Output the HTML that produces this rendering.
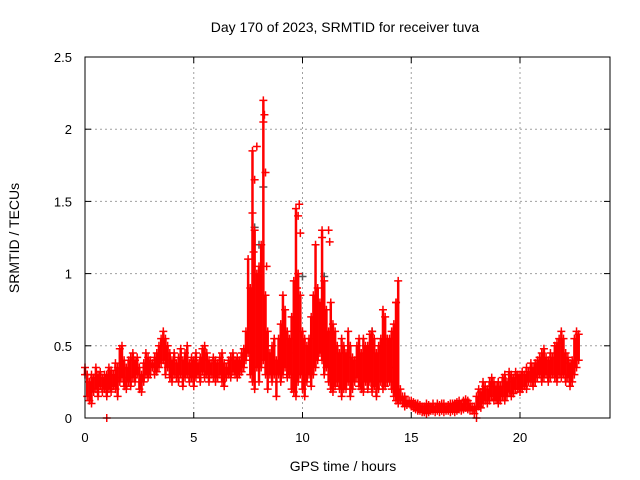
<!DOCTYPE html>
<html><head><meta charset="utf-8"><style>
body{margin:0;background:#fff}
svg{display:block;font-family:"Liberation Sans",sans-serif}
</style></head><body>
<svg id="chart" width="640" height="480">
<text x="345" y="32" font-size="14" text-anchor="middle">Day 170 of 2023, SRMTID for receiver tuva</text>
<text x="343" y="471" font-size="14" text-anchor="middle">GPS time / hours</text>
<text transform="translate(19,238) rotate(-90)" font-size="14" text-anchor="middle">SRMTID / TECUs</text>
<g id="grid"></g><g id="marks"></g>
<rect x="85" y="57" width="525" height="361" fill="none" stroke="#000"/>
<g id="ticks"></g>
</svg>
<script>
const xTicks=[0,5,10,15,20];
const yTicks=[0,0.5,1,1.5,2,2.5];
const yTickLabels=["0","0.5","1","1.5","2","2.5"];
const startHour=0, stepHour=0.1;
const lowVals=[.30,.15,.12,.10,.18,.20,.15,.22,.18,.20,
.15,.20,.18,.22,.20,.15,.25,.28,.22,.20,
.25,.22,.28,.25,.30,.20,.18,.25,.30,.28,
.30,.35,.30,.32,.35,.38,.40,.30,.35,.28,
.25,.30,.28,.25,.30,.22,.28,.30,.25,.28,
.22,.28,.30,.25,.32,.28,.30,.25,.30,.28,
.25,.28,.30,.25,.22,.28,.30,.28,.32,.30,
.28,.30,.32,.35,.40,.45,.30,.25,.20,.35,
.25,.35,.40,.30,.20,.30,.25,.30,.15,.30,
.25,.30,.35,.28,.30,.20,.18,.15,.25,.30,
.20,.15,.25,.30,.22,.30,.35,.40,.45,.40,
.30,.35,.25,.20,.18,.22,.25,.20,.15,.20,
.20,.25,.15,.20,.25,.28,.22,.20,.18,.25,
.20,.25,.18,.22,.15,.20,.25,.20,.22,.25,
.25,.20,.15,.12,.10,.12,.10,.08,.09,.10,
.08,.07,.06,.05,.05,.04,.04,.03,.04,.05,
.05,.04,.05,.04,.05,.04,.05,.05,.04,.05,
.04,.05,.06,.05,.06,.07,.06,.05,.05,.03,
.06,.08,.07,.10,.12,.10,.12,.15,.12,.13,
.10,.12,.15,.12,.15,.18,.15,.17,.20,.20,
.18,.20,.22,.20,.25,.25,.22,.25,.28,.30,
.25,.28,.30,.25,.28,.30,.28,.25,.30,.28,
.30,.25,.28,.22,.25,.30,.35,.40];
const highVals=[.35,.30,.25,.30,.28,.35,.30,.32,.28,.30,
.30,.35,.33,.30,.38,.35,.48,.50,.40,.35,
.40,.42,.45,.40,.42,.35,.30,.38,.45,.42,
.40,.38,.42,.45,.50,.55,.60,.55,.50,.45,
.40,.45,.38,.42,.48,.40,.45,.50,.38,.42,
.40,.45,.38,.42,.48,.50,.45,.40,.38,.42,
.40,.38,.42,.45,.38,.35,.40,.42,.45,.40,
.42,.40,.45,.48,.60,1.10,.90,1.85,1.30,1.00,
1.05,1.20,2.20,.85,.60,.45,.50,.55,.40,.55,
.65,.85,.75,.60,.55,.70,.95,1.45,1.00,.85,
.60,.55,.50,.55,.70,.85,1.20,.90,.80,1.30,
.95,.75,.60,.80,.65,.60,.50,.45,.55,.50,
.45,.60,.50,.42,.40,.50,.55,.45,.55,.50,
.50,.58,.60,.55,.45,.50,.55,.75,.70,.55,
.55,.60,.65,.80,.95,.20,.15,.15,.12,.12,
.12,.11,.10,.10,.09,.08,.08,.10,.09,.08,
.10,.08,.10,.09,.10,.10,.08,.09,.10,.10,
.10,.11,.12,.10,.12,.13,.12,.10,.08,.08,
.15,.20,.18,.25,.22,.20,.25,.28,.25,.22,
.25,.22,.28,.30,.25,.32,.30,.28,.32,.30,
.30,.32,.30,.35,.32,.38,.35,.38,.40,.42,
.45,.48,.42,.40,.45,.42,.50,.52,.55,.60,
.55,.45,.42,.38,.40,.55,.60,.58];
const spikeHours=[7.7,7.8,7.9,8.2,8.25,8.3,9.8,9.85,9.9,10.9,11.2,11.25,1.0,18.0,7.75,8.35,9.75,14.3];
const spikeVals=[1.42,1.65,1.88,2.05,2.10,1.70,1.40,1.48,1.28,1.25,1.30,1.22,0.0,0.0,1.15,1.05,0.90,0.80];
const greyHours=[7.8,8.0,8.2,10.0,11.0,14.2,13.2,0.1,9.6];
const greyVals=[1.32,1.20,1.60,0.98,0.98,0.35,0.60,0.30,0.45];
const X=h=>85+h*21.75, Y=v=>418-v*144.4;
const NS="http://www.w3.org/2000/svg";
const grid=document.getElementById('grid'),ticks=document.getElementById('ticks'),marks=document.getElementById('marks');
function mk(tag,attrs,parent){const e=document.createElementNS(NS,tag);for(const k in attrs)e.setAttribute(k,attrs[k]);parent.appendChild(e);return e;}
xTicks.forEach(t=>{
 if(t>0){const g=mk('line',{x1:X(t),x2:X(t),y1:57,y2:418,stroke:'#a0a0a0','stroke-dasharray':'2,3'},grid);
 
 }
 mk('line',{x1:X(t),x2:X(t),y1:418,y2:412,stroke:'#000'},ticks);
 mk('line',{x1:X(t),x2:X(t),y1:57,y2:63,stroke:'#000'},ticks);
 const l=mk('text',{x:X(t),y:442,'font-size':13,'text-anchor':'middle'},ticks);l.textContent=t;
 
 
});
yTicks.forEach((t,i)=>{
 if(t>0&&t<2.5){const g=mk('line',{x1:85,x2:610,y1:Y(t),y2:Y(t),stroke:'#a0a0a0','stroke-dasharray':'2,3'},grid);
 
 }
 mk('line',{x1:85,x2:91,y1:Y(t),y2:Y(t),stroke:'#000'},ticks);
 mk('line',{x1:610,x2:604,y1:Y(t),y2:Y(t),stroke:'#000'},ticks);
 const l=mk('text',{x:72,y:Y(t)+5,'font-size':13,'text-anchor':'end'},ticks);l.textContent=yTickLabels[i];
 
 
});
function cross(h,v,col,name){const x=X(h),y=Y(v);
 const p=mk('path',{d:`M${x-4},${y}h8M${x},${y-4}v8`,stroke:col,'stroke-width':1.5,fill:'none'},marks);
 
 }
greyHours.forEach((h,i)=>cross(h,greyVals[i],'#555','grey-point'));
lowVals.forEach((lo,i)=>{const h=startHour+i*stepHour,hi=highVals[i];
 const r=mk('line',{x1:X(h),x2:X(h),y1:Y(lo),y2:Y(hi),stroke:'#f00','stroke-width':2.5},marks);
 
 
 cross(h,lo,'#f00','low-point');cross(h,hi,'#f00','high-point');
});
spikeHours.forEach((h,i)=>cross(h,spikeVals[i],'#f00','spike-point'));
</script>
</body></html>
